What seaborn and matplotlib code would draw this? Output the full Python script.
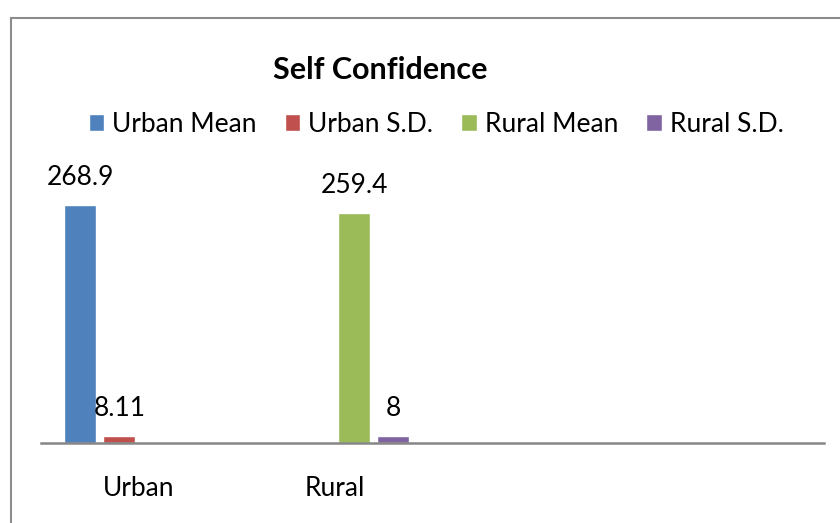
import pandas as pd
import numpy as np
import matplotlib.pyplot as plt
import seaborn as sns
from matplotlib.patches import Rectangle

# datos
areas = ['Urban', 'Urban', 'Rural', 'Rural']
series = ['Urban Mean', 'Urban S.D.', 'Rural Mean', 'Rural S.D.']
valores = [268.9, 8.11, 259.4, 8]
categorias = ['Urban', 'Rural', 'c3', 'c4']
etiquetas_x = ['Urban', 'Rural', '', '']
colores = ['#4F81BD', '#C0504D', '#9BBB59', '#8064A2']

df = pd.DataFrame({'area': areas, 'serie': series, 'valor': valores})

sns.set_style('white')
plt.rcParams['font.family'] = ['Lato', 'DejaVu Sans']

fig = plt.figure(figsize=(8.4, 5.23), dpi=100)
W, H = 840, 523
ax = fig.add_axes([41 / W, 80 / H, (824 - 41) / W, 265.5 / H])

sns.barplot(data=df, x='area', y='valor', hue='serie', order=categorias,
            hue_order=series, palette=colores, width=0.8, gap=0.18,
            saturation=1, ax=ax)

for c in ax.containers:
    ax.bar_label(c, fmt='{:g}', padding=11, fontsize=19, color='black', clip_on=False)

ax.set_ylim(0, 300)
ax.set_xlim(-0.5, 3.5)
ax.set_xticks(range(4))
ax.set_xticklabels(etiquetas_x, fontsize=19, color='black')
ax.tick_params(axis='x', length=0, pad=24)
ax.set_yticks([])
ax.set_xlabel('')
ax.set_ylabel('')
for s in ['top', 'right', 'left']:
    ax.spines[s].set_visible(False)
ax.spines['bottom'].set_color('#868686')
ax.spines['bottom'].set_linewidth(1.8)

handles, labels = ax.get_legend_handles_labels()
leg = ax.legend(handles, labels, ncol=4, loc='center', bbox_to_anchor=(436 / W, 1 - 124 / H),
                bbox_transform=fig.transFigure, frameon=False, fontsize=19,
                handlelength=0.6, handleheight=0.6, handletextpad=0.3, columnspacing=1.05)
for t in leg.get_texts():
    t.set_color('black')

fig.text(380 / W, 1 - 70 / H, 'Self Confidence', ha='center', va='center',
         fontsize=22, fontweight='bold', color='black')

# marco del grafico
fig.patches.append(Rectangle((10.5 / W, -0.1), 1.2, 1 - 18 / H + 0.1, transform=fig.transFigure,
                             fill=False, edgecolor='#8c8c8c', linewidth=1.5))

fig.savefig('out.png', dpi=100)
